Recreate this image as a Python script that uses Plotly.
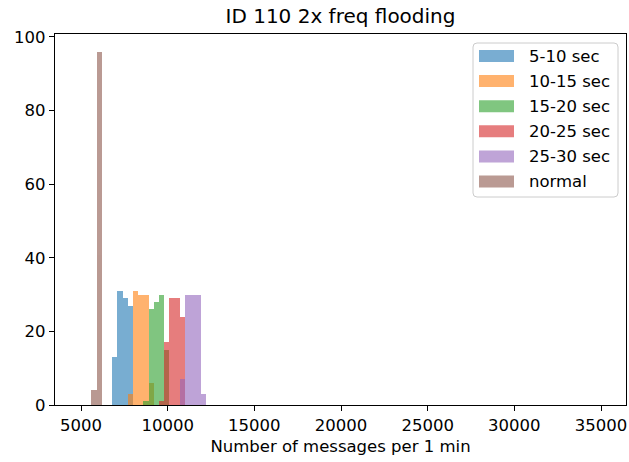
import plotly.graph_objects as go

BIN_WIDTH = 300

series_names = ["5-10 sec", "10-15 sec", "15-20 sec", "20-25 sec", "25-30 sec", "normal"]
series_colors = ["#1f77b4", "#ff7f0e", "#2ca02c", "#d62728", "#9467bd", "#8c564b"]

bins_5_10 = [6800, 7100, 7400, 7700]
counts_5_10 = [13, 31, 29, 27]

bins_10_15 = [7700, 8000, 8300, 8600, 8900]
counts_10_15 = [3, 31, 30, 30, 6]

bins_15_20 = [8600, 8900, 9200, 9500, 9800]
counts_15_20 = [1, 26, 28, 30, 15]

bins_20_25 = [9500, 9800, 10100, 10400, 10700]
counts_20_25 = [1, 17, 29, 29, 24]

bins_25_30 = [10700, 11000, 11300, 11600, 11900]
counts_25_30 = [7, 30, 30, 30, 3]

bins_normal = [5600, 5900]
counts_normal = [4, 96]

x_ticks = [5000, 10000, 15000, 20000, 25000, 30000, 35000]
y_ticks = [0, 20, 40, 60, 80, 100]

all_bins = [bins_5_10, bins_10_15, bins_15_20, bins_20_25, bins_25_30, bins_normal]
all_counts = [counts_5_10, counts_10_15, counts_15_20, counts_20_25, counts_25_30, counts_normal]

FONT = "DejaVu Sans"
fig = go.Figure()
for name, color, b, c in zip(series_names, series_colors, all_bins, all_counts):
    fig.add_trace(go.Bar(
        x=[v + BIN_WIDTH / 2 for v in b],
        y=c,
        width=[BIN_WIDTH] * len(b),
        name=name,
        opacity=0.6,
        marker=dict(color=color, line=dict(width=0)),
        showlegend=False,
    ))

# plot-area geometry (pixels) used to place the matplotlib-style legend box
PL, PR, PT, PB = 55, 626, 34, 405
W, H = PR - PL, PB - PT


def px(x):
    return (x - PL) / W


def py(y):
    return (PB - y) / H


# legend frame with rounded corners
x0, x1, y0, y1 = px(473), px(618), py(43), py(197)
rx, ry = 4 / W, 4 / H
path = (f"M {x0+rx},{y0} L {x1-rx},{y0} Q {x1},{y0} {x1},{y0-ry} "
        f"L {x1},{y1+ry} Q {x1},{y1} {x1-rx},{y1} L {x0+rx},{y1} "
        f"Q {x0},{y1} {x0},{y1+ry} L {x0},{y0-ry} Q {x0},{y0} {x0+rx},{y0} Z")
shapes = [dict(type="path", xref="paper", yref="paper", path=path,
               fillcolor="rgba(255,255,255,0.8)", line=dict(color="#cccccc", width=1),
               layer="above")]
annotations = []
for i, (name, color) in enumerate(zip(series_names, series_colors)):
    yc = 56 + 25.1 * i
    shapes.append(dict(type="rect", xref="paper", yref="paper",
                       x0=px(479), x1=px(514), y0=py(yc + 6), y1=py(yc - 6),
                       fillcolor=color, opacity=0.6, line=dict(width=0), layer="above"))
    annotations.append(dict(text=name, xref="paper", yref="paper", x=px(527), y=py(yc),
                            xanchor="left", yanchor="middle", showarrow=False,
                            font=dict(family=FONT, size=16.5, color="black")))

axis_common = dict(
    showline=True, linecolor="black", linewidth=1.3, mirror=True,
    ticks="outside", ticklen=5, tickwidth=1.3, tickcolor="black",
    showgrid=False, zeroline=False,
    tickfont=dict(family=FONT, size=16.5, color="black"),
)

fig.update_layout(
    width=629, height=462,
    margin=dict(l=PL, r=629 - PR, t=PT, b=462 - PB, autoexpand=False),
    paper_bgcolor="white", plot_bgcolor="white",
    barmode="overlay", bargap=0, showlegend=False,
    font=dict(family=FONT, size=16.5, color="black"),
    title=dict(text="ID 110 2x freq flooding", x=0.5, xref="paper",
               y=1 - 16 / 462, yanchor="middle",
               font=dict(family=FONT, size=20, color="black")),
    xaxis=dict(range=[3500, 36440], tickvals=x_ticks,
               ticktext=[str(v) for v in x_ticks], automargin=False,
               title=dict(text="Number of messages per 1 min", standoff=6,
                          font=dict(family=FONT, size=16.5, color="black")),
               **axis_common),
    yaxis=dict(range=[0, 100.8], tickvals=y_ticks, automargin=False,
               ticktext=[str(v) for v in y_ticks], **axis_common),
    shapes=shapes,
    annotations=annotations,
)

fig.write_html("out.html", config={"displayModeBar": False},
               post_script="document.body.style.margin='0';document.body.style.overflow='hidden';")
